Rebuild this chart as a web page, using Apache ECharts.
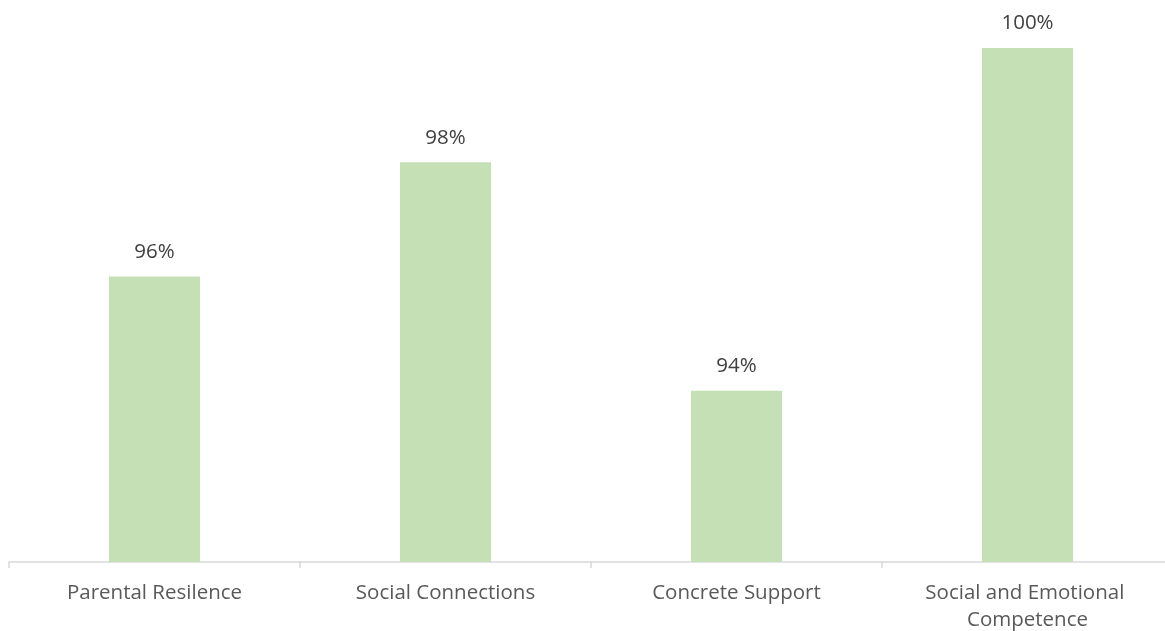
<!DOCTYPE html>
<html>
<head>
<meta charset="utf-8">
<script src="https://cdn.jsdelivr.net/npm/echarts@6/dist/echarts.min.js"></script>
<style>html,body{margin:0;padding:0;background:#fff;overflow:hidden;}#c{width:1165px;height:631px;}</style>
</head>
<body>
<div id="c"></div>
<script>
const categories = ["Parental Resilence", "Social Connections", "Concrete Support", "Social and Emotional Competence"];
const values = [96, 98, 94, 100];

const chart = echarts.init(document.getElementById('c'));
chart.setOption({
  animation: false,
  grid: { left: 9, right: -8, top: 48, bottom: 69, containLabel: false, outerBoundsMode: 'none' },
  xAxis: {
    type: 'category',
    data: categories,
    axisLine: { lineStyle: { color: '#D9D9D9', width: 1.5 } },
    axisTick: { show: true, length: 6, lineStyle: { color: '#D9D9D9', width: 1.5 } },
    axisLabel: {
      color: '#595959', fontFamily: 'Open Sans', fontSize: 20.5, margin: 18,
      lineHeight: 27, width: 240, overflow: 'break', interval: 0
    }
  },
  yAxis: { type: 'value', min: 91, max: 100, show: false, splitLine: { show: false } },
  series: [{
    type: 'bar',
    data: values,
    barWidth: '31.3%',
    itemStyle: { color: '#C5E0B4' },
    label: {
      show: true, position: 'top', distance: 14,
      formatter: p => p.value + '%',
      color: '#404040', fontFamily: 'Open Sans', fontSize: 20.5
    }
  }]
});
</script>
</body>
</html>
